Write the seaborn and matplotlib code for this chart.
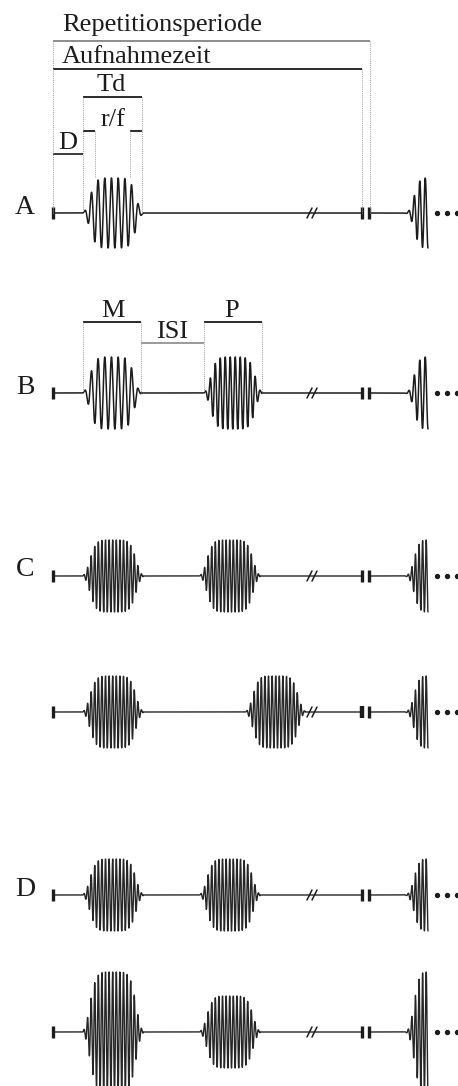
import numpy as np
import matplotlib
matplotlib.use("Agg")
import matplotlib.pyplot as plt
import seaborn as sns

# ---------------- data ----------------
row_labels = ["A", "B", "C", "", "D", ""]
row_baseline = [213, 393, 576, 712, 895, 1032]
burst_starts = [[83], [83, 204], [83, 200], [83, 246], [83, 200], [83, 200]]
burst_ends = [[143], [141, 262], [143, 260], [143, 305], [143, 260], [143, 260]]
burst_amps = [[35], [36, 36], [36, 36], [36, 36], [36, 36], [60, 36]]
burst_periods = [[6.7], [6.7, 5.0], [3.6, 3.6], [3.6, 3.6], [3.6, 3.6], [3.6, 3.6]]
tail_amps = [35, 36, 36, 36, 36, 60]
tail_periods = [5.5, 5.5, 3.6, 3.6, 3.6, 3.6]

seq_start, seq_end = 53, 362
next_start, next_cut = 369, 428
break_x = 312
dots_x = [437, 447, 457]

# bracket annotations: (label, text_x, text_y, ha, line_y, x0, x1, color)
brackets_A = [
    ("Repetitionsperiode", 62, 25, "left", 41, 53, 370, "#8c8c8c"),
    ("Aufnahmezeit", 62, 57, "left", 69, 53, 362, "#2a2a2a"),
    ("Td", 111, 85, "center", 97, 83, 142, "#2a2a2a"),
    ("D", 68, 143, "center", 154, 53, 83, "#3a3a3a"),
]
rf_text = ("r/f", 113, 120)
rf_lines = [(131, 83, 95), (131, 130, 142)]
brackets_B = [
    ("M", 113, 311, "center", 322, 83, 141, "#2a2a2a"),
    ("ISI", 172, 332, "center", 343, 141, 204, "#9a9a9a"),
    ("P", 232, 311, "center", 322, 204, 262, "#2a2a2a"),
]
dotted_A = [(53, 41, 213), (83, 97, 213), (95, 131, 178), (130, 131, 178),
            (142, 97, 213), (362, 69, 213), (370, 41, 213)]
dotted_B = [(83, 322, 393), (141, 322, 393), (204, 322, 393), (262, 322, 393)]

# ---------------- figure ----------------
sns.set_theme(style="white")
plt.rcParams["font.family"] = ["Liberation Serif", "DejaVu Serif"]
W, H = 458, 1086
fig = plt.figure(figsize=(W / 100, H / 100), dpi=100)
ax = fig.add_axes([0, 0, 1, 1])
ax.set_xlim(0, W)
ax.set_ylim(H, 0)
ax.axis("off")

ink = "#1c1c1c"
fs = 19


def burst(x, s, e, amp, period):
    c = (s + e) / 2
    w = (e - s) / 2
    env = np.exp(-(np.abs(x - c) / (0.8 * w)) ** 6)
    env[(x < s) | (x > e)] = 0
    return amp * env * np.sin(2 * np.pi * (x - s) / period + np.pi)


for i, base in enumerate(row_baseline):
    lw = 1.1 if burst_periods[i][0] > 4 else 1.0
    col = ink if burst_periods[i][0] > 4 else "#262626"
    x = np.linspace(seq_start, seq_end, 6000)
    y = np.zeros_like(x)
    for s, e, a, p in zip(burst_starts[i], burst_ends[i], burst_amps[i], burst_periods[i]):
        y += burst(x, s, e, a, p)
    sns.lineplot(x=x, y=base + y, ax=ax, sort=False, estimator=None,
                 color=col, lw=lw)
    # next repetition (truncated burst)
    x2 = np.linspace(next_start, next_cut, 2000)
    env2 = np.exp(-((next_cut - x2) / 15.0) ** 4)
    y2 = tail_amps[i] * env2 * np.cos(2 * np.pi * (x2 - next_cut) / tail_periods[i])
    sns.lineplot(x=x2, y=base + y2, ax=ax, sort=False, estimator=None,
                 color=col, lw=lw)
    # ticks
    for tx, tlw in [(seq_start, 2.4), (seq_end, 3.2 if i == 3 else 2.4), (next_start, 2.4)]:
        ax.plot([tx, tx], [base - 6, base + 6], color=ink, lw=tlw, solid_capstyle="butt")
    # break mark
    for dx in (-2.5, 2.5):
        ax.plot([break_x + dx - 2.5, break_x + dx + 2.5], [base + 5, base - 5],
                color=ink, lw=1.1)
    # dots
    ax.scatter(dots_x, [base] * len(dots_x), s=8, color=ink, zorder=5, clip_on=True)
    if row_labels[i]:
        ax.text(25, base - 6, row_labels[i], fontsize=fs + 1, ha="center",
                va="center", color=ink)

for lab, tx, ty, ha, ly, x0, x1, col in brackets_A + brackets_B:
    ax.text(tx, ty, lab, fontsize=fs, ha=ha, va="center", color=ink)
    ax.plot([x0, x1], [ly, ly], color=col, lw=1.4, solid_capstyle="butt")

ax.text(rf_text[1], rf_text[2], rf_text[0], fontsize=fs, ha="center", va="center", color=ink)
for ly, x0, x1 in rf_lines:
    ax.plot([x0, x1], [ly, ly], color="#2a2a2a", lw=1.4, solid_capstyle="butt")

for vx, y0, y1 in dotted_A + dotted_B:
    ax.plot([vx, vx], [y0, y1], color="#9a9a9a", lw=0.7, ls=(0, (1, 1.2)))

fig.savefig("out.png", dpi=100, facecolor="white")
